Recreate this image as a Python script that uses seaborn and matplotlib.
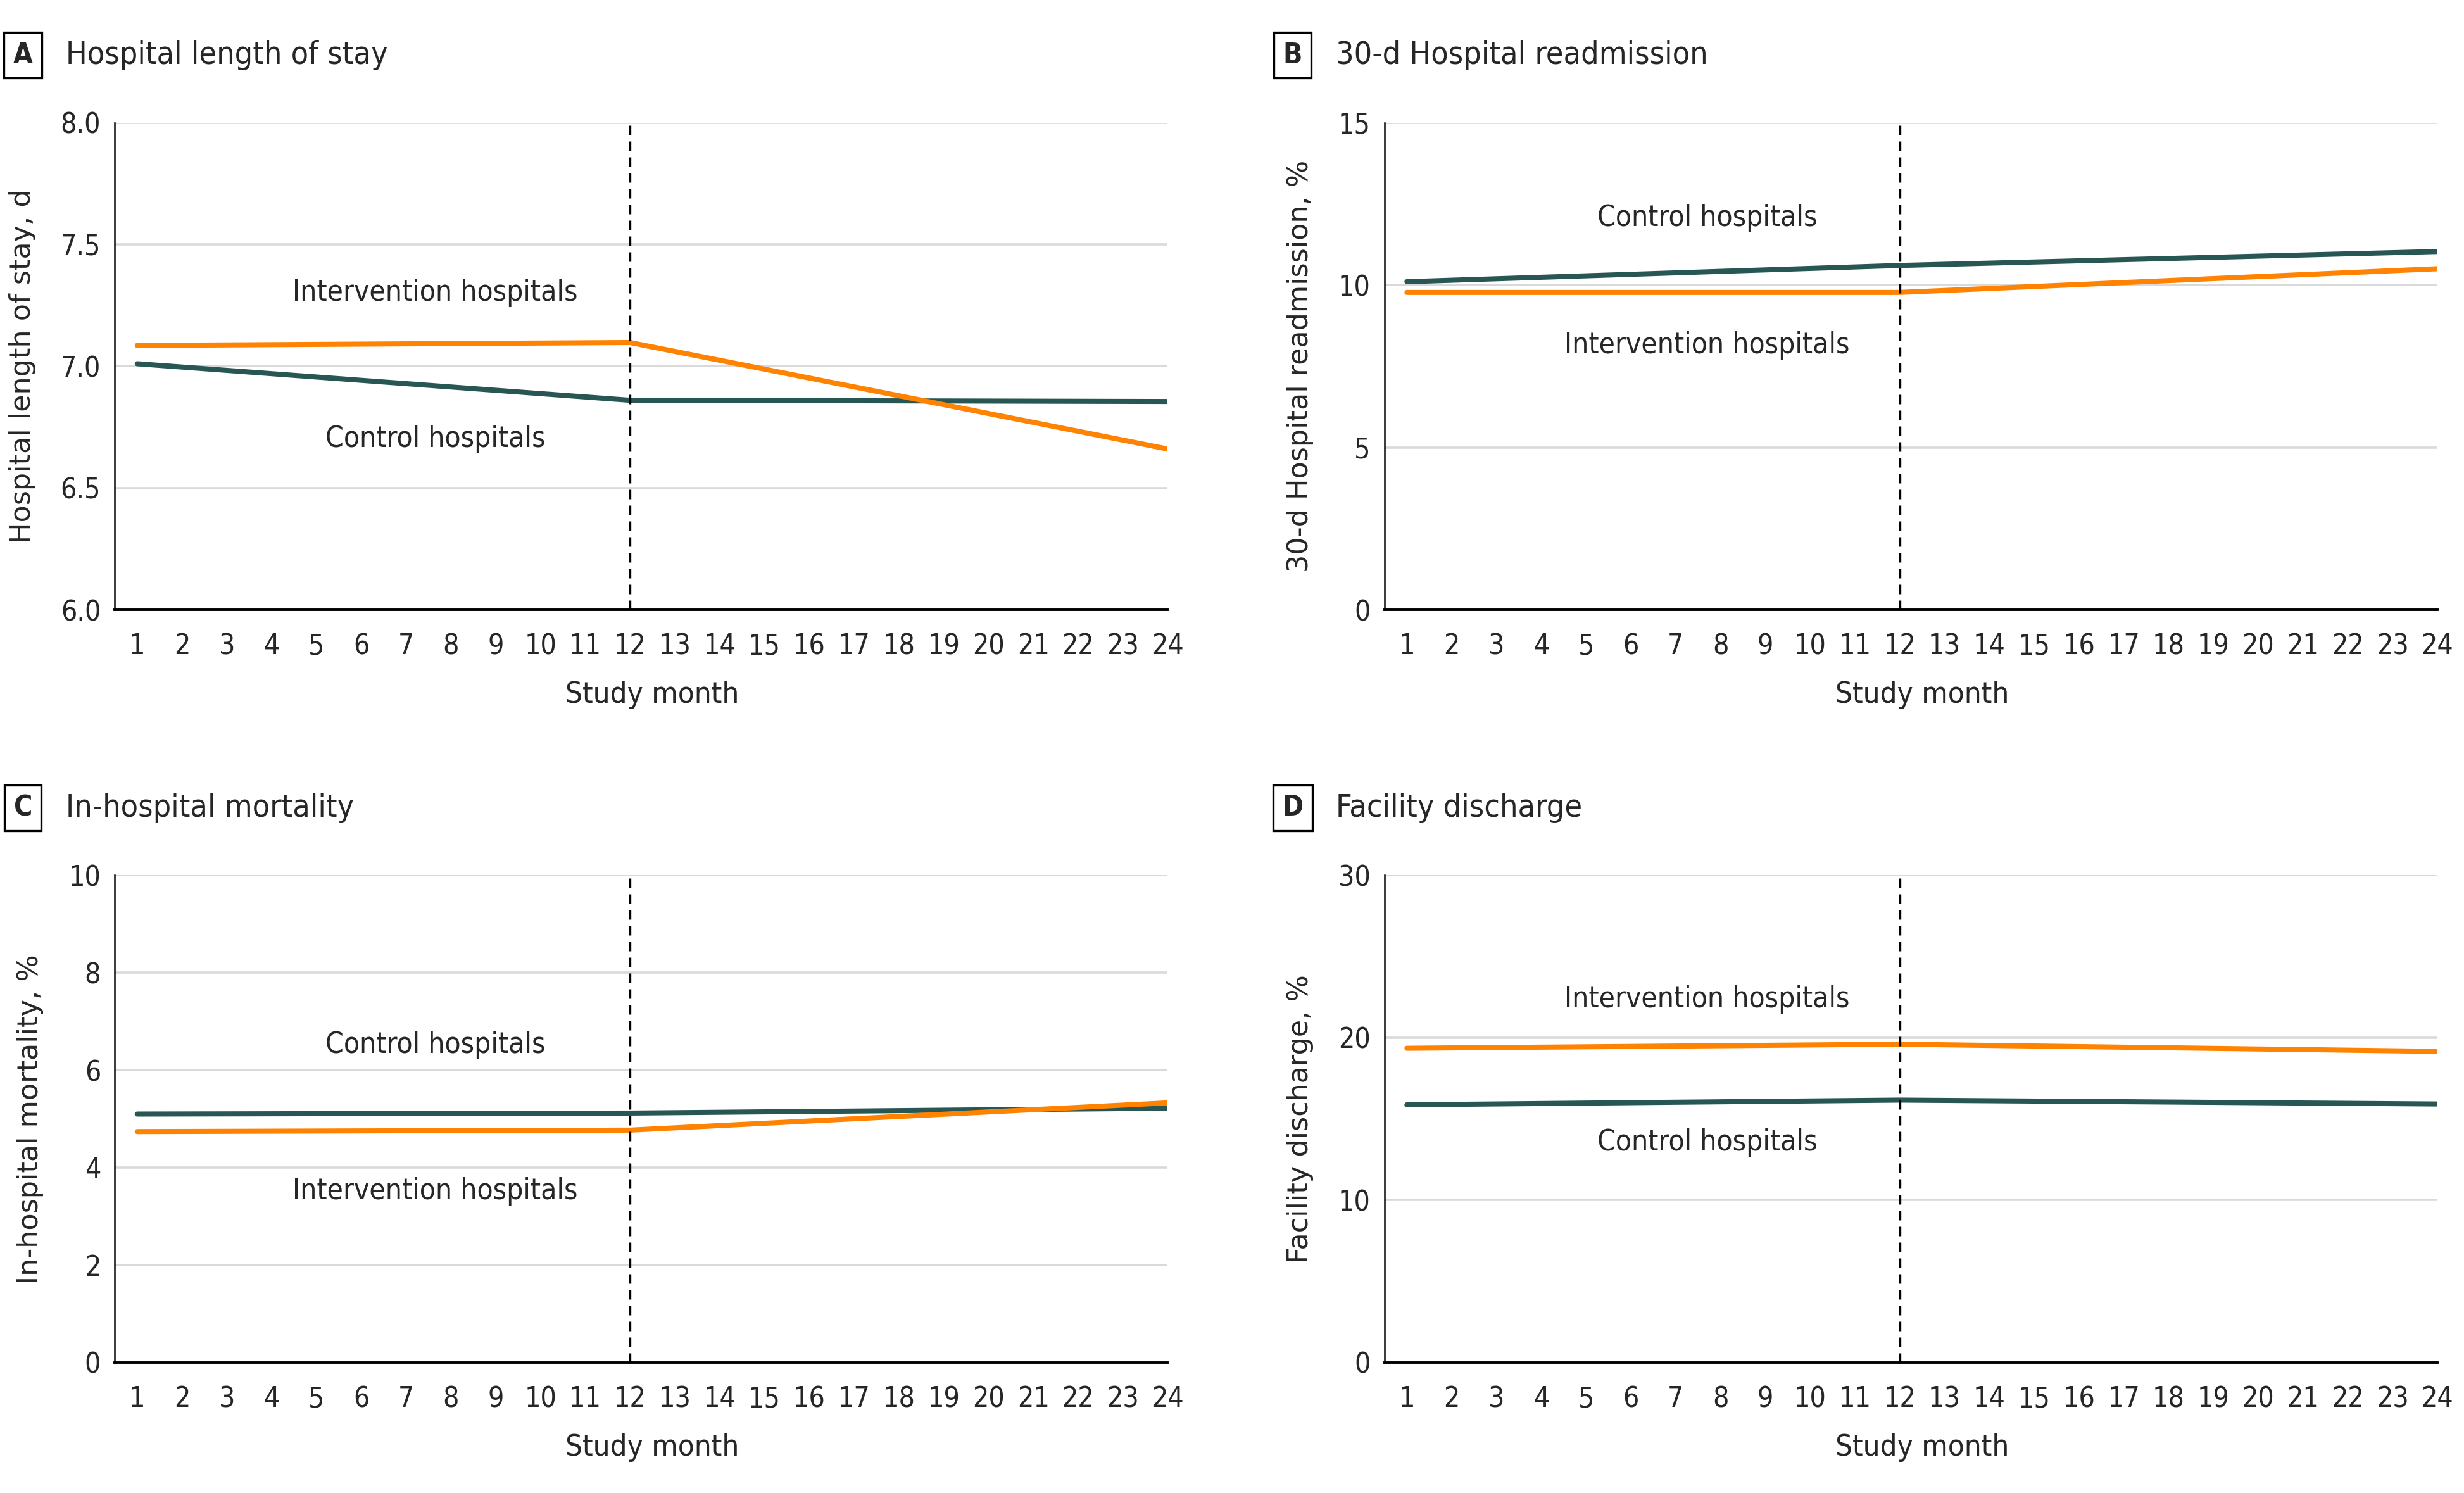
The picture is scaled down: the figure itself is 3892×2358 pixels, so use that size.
import matplotlib
matplotlib.use("Agg")
import matplotlib.pyplot as plt
import seaborn as sns
import pandas as pd

sns.set_theme(style="white")
plt.rcParams['font.family'] = ['DejaVu Sans']
plt.rcParams['font.stretch'] = 'condensed'

months = [1, 12, 24]
groups = ["Control hospitals", "Intervention hospitals"]
palette = {"Control hospitals": "#285753", "Intervention hospitals": "#FF8200"}

# panel A: hospital length of stay, d
los_control = [7.01, 6.86, 6.855]
los_interv = [7.085, 7.097, 6.66]
# panel B: 30-d readmission, %
readm_control = [10.1, 10.6, 11.03]
readm_interv = [9.77, 9.77, 10.5]
# panel C: in-hospital mortality, %
mort_control = [5.1, 5.12, 5.22]
mort_interv = [4.74, 4.77, 5.33]
# panel D: facility discharge, %
disch_control = [15.87, 16.16, 15.92]
disch_interv = [19.35, 19.6, 19.16]

panels = [
    dict(letter="A", title="Hospital length of stay", ylabel="Hospital length of stay, d",
         ctrl=los_control, intv=los_interv, ylim=(6.0, 8.0),
         yticks=[6.0, 6.5, 7.0, 7.5, 8.0], yfmt="{:.1f}",
         intv_lbl=(7.65, 7.30), ctrl_lbl=(7.65, 6.70),
         pos=(0.0466, 0.5916, 0.4273, 0.3263)),
    dict(letter="B", title="30-d Hospital readmission", ylabel="30-d Hospital readmission, %",
         ctrl=readm_control, intv=readm_interv, ylim=(0, 15),
         yticks=[0, 5, 10, 15], yfmt="{:d}",
         intv_lbl=(7.7, 8.13), ctrl_lbl=(7.7, 12.05),
         pos=(0.5619, 0.5916, 0.4273, 0.3263)),
    dict(letter="C", title="In-hospital mortality", ylabel="In-hospital mortality, %",
         ctrl=mort_control, intv=mort_interv, ylim=(0, 10),
         yticks=[0, 2, 4, 6, 8, 10], yfmt="{:d}",
         intv_lbl=(7.65, 3.52), ctrl_lbl=(7.65, 6.52),
         pos=(0.0466, 0.0874, 0.4273, 0.3263)),
    dict(letter="D", title="Facility discharge", ylabel="Facility discharge, %",
         ctrl=disch_control, intv=disch_interv, ylim=(0, 30),
         yticks=[0, 10, 20, 30], yfmt="{:d}",
         intv_lbl=(7.7, 22.35), ctrl_lbl=(7.7, 13.55),
         pos=(0.5619, 0.0874, 0.4273, 0.3263)),
]

fig = plt.figure(figsize=(19.46, 11.79), dpi=200)

for p in panels:
    ax = fig.add_axes(p["pos"])
    df = pd.DataFrame({
        "month": months + months,
        "value": p["ctrl"] + p["intv"],
        "group": [groups[0]] * 3 + [groups[1]] * 3,
    })
    sns.lineplot(data=df, x="month", y="value", hue="group", palette=palette,
                 linewidth=2.9, legend=False, ax=ax, zorder=3)
    ax.axvline(12, color="black", linestyle=(0, (4.5, 3)), linewidth=1.2, zorder=4)

    ax.set_xlim(0.5, 24)
    ax.set_ylim(*p["ylim"])
    ax.set_xticks(range(1, 25))
    ax.set_xticklabels([str(m) for m in range(1, 25)], fontsize=16)
    ax.set_yticks(p["yticks"])
    ax.set_yticklabels([p["yfmt"].format(v) for v in p["yticks"]], fontsize=16)
    ax.grid(axis="y", color="#d9d9d9", linewidth=1.3)
    ax.grid(axis="x", visible=False)
    ax.set_axisbelow(True)

    for s in ["top", "right"]:
        ax.spines[s].set_visible(False)
    ax.spines["left"].set_color("black")
    ax.spines["left"].set_linewidth(0.9)
    ax.spines["bottom"].set_color("black")
    ax.spines["bottom"].set_linewidth(1.4)
    ax.tick_params(axis="x", direction="out", length=8, width=0.8, color="black", pad=5)
    ax.tick_params(axis="y", direction="out", length=5, width=0.8, color="black", pad=3)

    ax.set_xlabel("Study month", fontsize=17, labelpad=12)
    ax.xaxis.label.set_x((12.5 - 0.5) / 23.5)
    ax.set_ylabel(p["ylabel"], fontsize=16, family="DejaVu Sans", stretch="normal", labelpad=14)

    ax.text(*p["intv_lbl"], "Intervention hospitals", fontsize=16.5, ha="center", va="center")
    ax.text(*p["ctrl_lbl"], "Control hospitals", fontsize=16.5, ha="center", va="center")

    # panel letter box and title
    x0 = p["pos"][0] - 0.0466
    ytop = p["pos"][1] + p["pos"][3] + 0.0452
    fig.text(x0 + 0.0093, ytop, p["letter"], fontsize=16, fontweight="bold",
             ha="center", va="center",
             bbox=dict(boxstyle="square,pad=0.32", facecolor="white", edgecolor="black", linewidth=1.2))
    fig.text(x0 + 0.0268, ytop, p["title"], fontsize=18, ha="left", va="center")

fig.savefig("out.png", dpi=200, facecolor="white")
